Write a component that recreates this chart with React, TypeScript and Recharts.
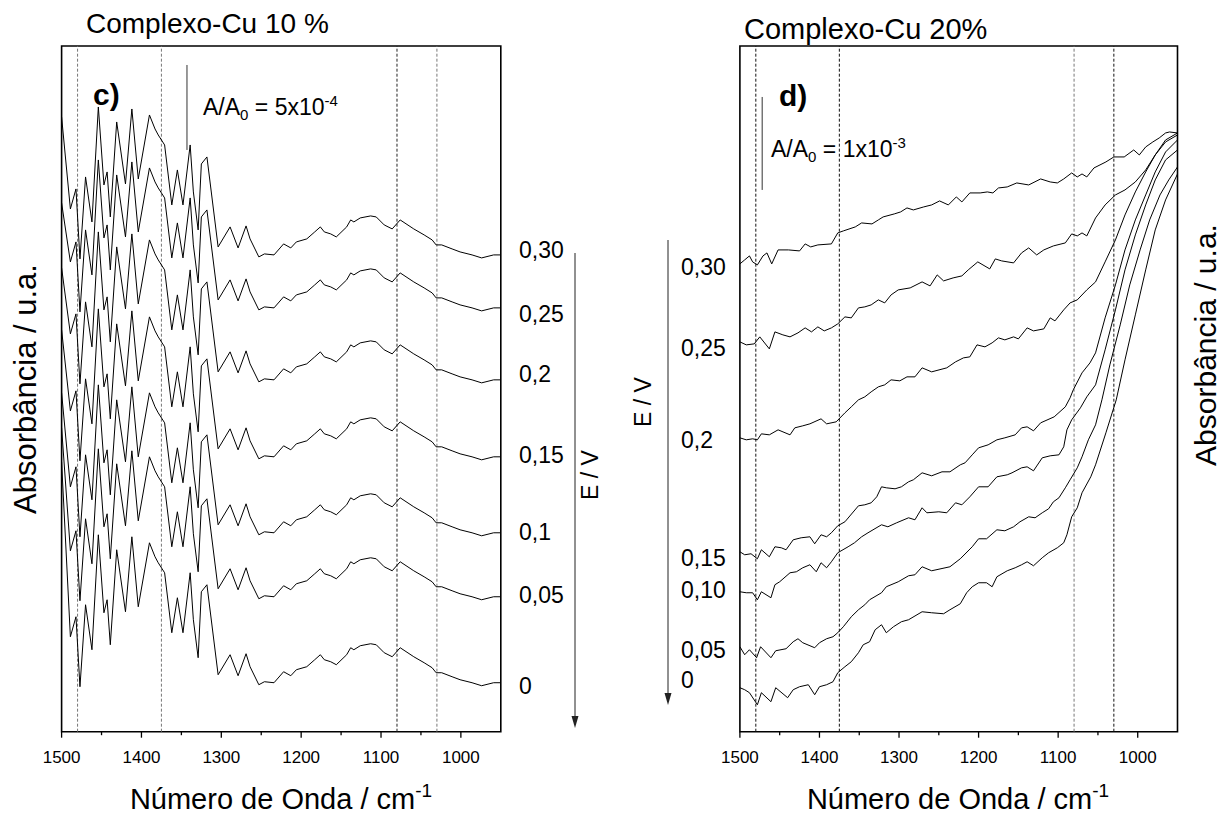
import React from "react";
import { LineChart, Line, XAxis, YAxis, ReferenceLine, ReferenceArea } from "recharts";

const FONT = "'Liberation Sans', Arial, Helvetica, sans-serif";

// shared wavenumber axis (cm-1), drawn high -> low
const X_DOMAIN = [950, 1500];
const X_TICKS = [1500, 1450, 1400, 1350, 1300, 1250, 1200, 1150, 1100, 1050, 1000];
const BAND_POSITIONS = [1480, 1375, 1080, 1030];
const Y_RANGE = [0, 686]; // absorbance, arbitrary units

// c) Complexo-Cu 10 % -- spectra are offset-stacked, like in the original plot
const C_LABELS = ["0,30", "0,25", "0,2", "0,15", "0,1", "0,05", "0"];
const C_OFFSET = [428, 375, 303, 226, 150, 86, 0];
const C_AT_1500 = [615, 529, 464, 402, 339, 304, 270];
const C_WAVENUMBER = [
  1489, 1482, 1477, 1470, 1462, 1454, 1447, 1443, 1439, 1431, 1420, 1412, 1404, 1390, 1383, 1379,
  1371, 1362, 1355, 1348, 1339, 1335, 1329, 1325, 1318, 1304, 1289, 1279, 1269, 1264, 1253, 1246,
  1234, 1222, 1213, 1206, 1193, 1183, 1176, 1171, 1163, 1156, 1143, 1138, 1134, 1126, 1113, 1106,
  1096, 1086, 1076, 1059, 1046, 1036, 1031, 1024, 1011, 1001, 986, 974, 959, 950,
];
const C_PROFILE = [
  95, 115, 45, 127, 82, 197, 119, 132, 87, 182, 120, 195, 125, 189, 175, 169,
  159, 99, 134, 99, 159, 112, 74, 140, 147, 57, 77, 56, 78, 65, 47, 50,
  49, 60, 56, 62, 65, 72, 77, 72, 70, 67, 77, 84, 82, 86, 88, 87,
  79, 75, 84, 75, 69, 64, 59, 59, 55, 52, 49, 46, 49, 49,
];
const C_BAND_COLORS = ["#777", "#777", "#222", "#777"];

// d) Complexo-Cu 20%  [wavenumber, absorbance]
const D_LABELS = ["0,30", "0,25", "0,2", "0,15", "0,10", "0,05", "0"];
const D_030 = [
  [1500, 468], [1494, 472], [1488, 476], [1484, 470], [1478, 467], [1471, 476], [1466, 479], [1460, 468],
  [1452, 482], [1439, 482], [1425, 481], [1418, 488], [1411, 485], [1402, 487], [1385, 488], [1377, 499],
  [1370, 501], [1355, 505], [1347, 509], [1334, 508], [1326, 512], [1320, 515], [1306, 518], [1298, 520],
  [1290, 524], [1282, 522], [1269, 525], [1259, 527], [1249, 531], [1238, 527], [1228, 535], [1221, 530],
  [1211, 539], [1198, 539], [1189, 540], [1182, 539], [1175, 544], [1164, 545], [1152, 549], [1137, 547],
  [1122, 553], [1110, 550], [1101, 549], [1093, 553], [1083, 559], [1076, 555], [1070, 558], [1064, 555],
  [1055, 564], [1040, 570], [1030, 575], [1017, 575], [1005, 582], [998, 577], [990, 585], [981, 590],
  [973, 594], [965, 599], [960, 600], [950, 599],
];
const D_025 = [
  [1500, 390], [1492, 387], [1482, 388], [1475, 395], [1463, 383], [1456, 400], [1446, 397], [1437, 395],
  [1427, 399], [1418, 404], [1410, 400], [1402, 405], [1394, 401], [1385, 404], [1377, 408], [1368, 415],
  [1360, 414], [1351, 424], [1343, 425], [1335, 427], [1326, 432], [1318, 429], [1310, 437], [1301, 442],
  [1286, 444], [1271, 450], [1261, 446], [1252, 457], [1244, 451], [1232, 454], [1221, 456], [1213, 462],
  [1201, 470], [1186, 463], [1179, 473], [1171, 471], [1156, 469], [1146, 479], [1137, 484], [1127, 477],
  [1118, 482], [1106, 486], [1091, 489], [1083, 498], [1076, 496], [1070, 499], [1064, 496], [1053, 514],
  [1041, 527], [1028, 537], [1016, 542], [1003, 550], [990, 562], [978, 577], [965, 592], [950, 599],
];
const D_020 = [
  [1500, 294], [1492, 292], [1484, 293], [1478, 292], [1473, 298], [1463, 297], [1452, 302], [1437, 297],
  [1431, 304], [1421, 306], [1412, 308], [1398, 313], [1391, 308], [1379, 310], [1368, 319], [1360, 325],
  [1351, 332], [1343, 335], [1335, 340], [1326, 345], [1318, 347], [1310, 352], [1299, 351], [1290, 355],
  [1280, 355], [1271, 364], [1259, 360], [1240, 364], [1229, 370], [1219, 374], [1211, 375], [1202, 387],
  [1192, 385], [1183, 389], [1175, 394], [1167, 392], [1156, 395], [1150, 393], [1139, 404], [1131, 401],
  [1118, 403], [1110, 414], [1104, 411], [1093, 422], [1085, 429], [1076, 432], [1064, 442], [1053, 450],
  [1041, 470], [1028, 492], [1016, 517], [1003, 540], [990, 560], [978, 577], [965, 590], [950, 597],
];
const D_015 = [
  [1500, 180], [1494, 177], [1486, 178], [1478, 173], [1473, 182], [1463, 175], [1456, 185], [1448, 184],
  [1442, 182], [1433, 192], [1423, 194], [1412, 195], [1406, 188], [1398, 197], [1391, 195], [1385, 199],
  [1377, 206], [1368, 210], [1351, 226], [1343, 227], [1335, 229], [1328, 235], [1322, 245], [1316, 244],
  [1305, 243], [1297, 245], [1288, 250], [1282, 252], [1271, 259], [1259, 256], [1246, 260], [1236, 260],
  [1223, 267], [1217, 269], [1208, 277], [1200, 284], [1188, 287], [1177, 292], [1167, 294], [1154, 297],
  [1146, 304], [1139, 305], [1131, 301], [1122, 309], [1105, 315], [1091, 325], [1085, 334], [1081, 342],
  [1070, 359], [1060, 369], [1053, 379], [1041, 414], [1028, 447], [1016, 482], [1003, 512], [990, 537],
  [978, 560], [965, 580], [950, 592],
];
const D_010 = [
  [1500, 140], [1492, 139], [1484, 139], [1478, 132], [1473, 140], [1461, 134], [1456, 147], [1450, 150],
  [1437, 159], [1429, 160], [1421, 164], [1412, 167], [1404, 160], [1398, 169], [1391, 164], [1385, 170],
  [1377, 179], [1364, 185], [1356, 189], [1347, 195], [1339, 199], [1322, 207], [1314, 205], [1303, 209],
  [1288, 214], [1280, 212], [1271, 224], [1265, 219], [1250, 220], [1240, 219], [1229, 229], [1221, 227],
  [1211, 235], [1200, 245], [1188, 245], [1177, 255], [1164, 257], [1158, 259], [1146, 264], [1139, 265],
  [1131, 261], [1120, 274], [1110, 276], [1099, 277], [1093, 285], [1089, 302], [1083, 312], [1072, 324],
  [1064, 335], [1053, 347], [1041, 382], [1028, 422], [1016, 462], [1003, 497], [990, 527], [978, 552],
  [965, 572], [950, 582],
];
const D_005 = [
  [1500, 85], [1494, 77], [1488, 82], [1479, 74], [1474, 85], [1461, 74], [1455, 81], [1442, 83],
  [1433, 90], [1427, 93], [1421, 89], [1406, 84], [1400, 89], [1391, 93], [1383, 95], [1377, 99],
  [1370, 105], [1360, 115], [1351, 122], [1343, 127], [1337, 132], [1322, 139], [1316, 145], [1301, 150],
  [1288, 156], [1280, 157], [1271, 165], [1259, 161], [1236, 165], [1223, 173], [1208, 185], [1200, 193],
  [1190, 193], [1177, 202], [1167, 201], [1156, 205], [1148, 210], [1137, 215], [1129, 214], [1120, 219],
  [1112, 223], [1106, 230], [1099, 234], [1091, 244], [1085, 252], [1076, 264], [1070, 275], [1062, 292],
  [1053, 307], [1045, 332], [1035, 367], [1022, 407], [1010, 447], [997, 482], [985, 512], [972, 537],
  [961, 552], [950, 565],
];
const D_000 = [
  [1500, 44], [1494, 42], [1488, 39], [1478, 27], [1473, 39], [1461, 30], [1455, 44], [1440, 34],
  [1433, 42], [1425, 45], [1414, 47], [1406, 37], [1400, 45], [1391, 47], [1383, 50], [1377, 59],
  [1368, 65], [1360, 70], [1351, 79], [1345, 87], [1337, 90], [1330, 102], [1322, 107], [1316, 99],
  [1307, 105], [1297, 110], [1288, 112], [1271, 120], [1259, 119], [1244, 118], [1236, 122], [1223, 128],
  [1215, 139], [1208, 145], [1200, 149], [1190, 149], [1183, 145], [1177, 155], [1164, 161], [1154, 164],
  [1146, 167], [1139, 170], [1131, 166], [1120, 174], [1112, 179], [1101, 184], [1093, 189], [1089, 197],
  [1083, 215], [1076, 224], [1070, 239], [1059, 255], [1053, 267], [1040, 299], [1027, 332], [1016, 372],
  [1003, 417], [990, 462], [978, 502], [965, 532], [950, 558],
];
const D_BAND_COLORS = ["#111", "#111", "#777", "#111"];

const cData = [
  { wn: 1500, ...Object.fromEntries(C_AT_1500.map((v, i) => [`s${i}`, v])) },
  ...C_WAVENUMBER.map((wn, j) => ({
    wn,
    ...Object.fromEntries(C_OFFSET.map((o, i) => [`s${i}`, C_PROFILE[j] + o])),
  })),
];

const dSeries = [D_030, D_025, D_020, D_015, D_010, D_005, D_000].map((s) =>
  s.map(([wn, a]) => ({ wn, a }))
);

function WnTick(props: any) {
  const { x, y, payload } = props;
  const major = payload.value % 100 === 0;
  return (
    <g>
      <line x1={x} x2={x} y1={y} y2={y + (major ? 6 : 3.5)} stroke="#000" strokeWidth={1.3} />
      {major && (
        <text x={x} y={y + 31} textAnchor="middle" fontSize={17} fontFamily={FONT} fill="#000">
          {payload.value}
        </text>
      )}
    </g>
  );
}

function Panel({ left, width, marginLeft, marginRight, data, bandColors, bar, children }: any) {
  return (
    <div style={{ position: "absolute", top: 0, left }}>
      <LineChart
        width={width}
        height={816}
        data={data}
        margin={{ top: 46, left: marginLeft, right: marginRight, bottom: 54.3 }}
      >
        <XAxis
          dataKey="wn"
          type="number"
          domain={X_DOMAIN}
          reversed
          ticks={X_TICKS}
          interval={0}
          tickSize={0}
          tickMargin={0}
          tickLine={false}
          axisLine={false}
          tick={<WnTick />}
          height={30}
          allowDataOverflow
        />
        <YAxis hide type="number" domain={Y_RANGE} allowDataOverflow />
        <ReferenceArea x1={950} x2={1500} y1={0} y2={686} fill="none" stroke="#000" strokeWidth={1.6} />
        {BAND_POSITIONS.map((wn, i) => (
          <ReferenceLine key={wn} x={wn} stroke={bandColors[i]} strokeWidth={1} strokeDasharray="3 2" />
        ))}
        <ReferenceLine segment={bar} stroke="#333" strokeWidth={1} />
        {children}
      </LineChart>
    </div>
  );
}

function Arrow({ x, y1, y2 }: any) {
  return (
    <g>
      <line x1={x} x2={x} y1={y1} y2={y2 - 10} stroke="#222" strokeWidth={1} />
      <polygon points={`${x - 3.5},${y2 - 12} ${x + 3.5},${y2 - 12} ${x},${y2}`} fill="#222" />
    </g>
  );
}

export default function App() {
  return (
    <div style={{ position: "absolute", left: 0, top: 0, width: 1224, height: 816, background: "#fff" }}>
      <Panel
        left={0}
        width={560}
        marginLeft={61.6}
        marginRight={59.2}
        data={cData}
        bandColors={C_BAND_COLORS}
        bar={[{ x: 1343, y: 582 }, { x: 1343, y: 667 }]}
      >
        {C_LABELS.map((lab, i) => (
          <Line
            key={lab}
            dataKey={`s${i}`}
            type="linear"
            stroke="#000"
            strokeWidth={1}
            dot={false}
            isAnimationActive={false}
          />
        ))}
      </Panel>
      <Panel
        left={620}
        width={600}
        marginLeft={119.9}
        marginRight={42.5}
        data={undefined}
        bandColors={D_BAND_COLORS}
        bar={[{ x: 1472, y: 542 }, { x: 1472, y: 635 }]}
      >
        {dSeries.map((pts, i) => (
          <Line
            key={D_LABELS[i]}
            data={pts}
            dataKey="a"
            type="linear"
            stroke="#000"
            strokeWidth={1}
            dot={false}
            isAnimationActive={false}
          />
        ))}
      </Panel>

      <svg
        width={1224}
        height={816}
        style={{ position: "absolute", left: 0, top: 0, pointerEvents: "none" }}
        fontFamily={FONT}
        fill="#000"
      >
        {/* panel c */}
        <text x={86} y={33} fontSize={28}>Complexo-Cu 10 %</text>
        <text x={93} y={105} fontSize={30} fontWeight="bold">c)</text>
        <text x={203} y={115} fontSize={23}>
          A/A<tspan dy={5} fontSize={15}>0</tspan>
          <tspan dy={-5}> = 5x10</tspan>
          <tspan dy={-9} fontSize={15}>-4</tspan>
        </text>
        <text transform="translate(36,389) rotate(-90)" textAnchor="middle" fontSize={31}>
          Absorbância / u.a.
        </text>
        <text x={281} y={809} textAnchor="middle" fontSize={29}>
          Número de Onda / cm<tspan dy={-12} fontSize={19}>-1</tspan>
        </text>
        {[258, 322, 382, 463, 540, 603, 694].map((y, i) => (
          <text key={i} x={519} y={y} fontSize={23}>{C_LABELS[i]}</text>
        ))}
        <Arrow x={575} y1={253} y2={728} />
        <text transform="translate(598,475) rotate(-90)" textAnchor="middle" fontSize={23}>E / V</text>

        {/* panel d */}
        <text x={744} y={39} fontSize={29}>Complexo-Cu 20%</text>
        <text x={779} y={106} fontSize={30} fontWeight="bold">d)</text>
        <text x={771} y={157} fontSize={23}>
          A/A<tspan dy={5} fontSize={15}>0</tspan>
          <tspan dy={-5}> = 1x10</tspan>
          <tspan dy={-9} fontSize={15}>-3</tspan>
        </text>
        <text transform="translate(1216,345) rotate(-90)" textAnchor="middle" fontSize={30}>
          Absorbância / u.a.
        </text>
        <text x={958} y={809} textAnchor="middle" fontSize={29}>
          Número de Onda / cm<tspan dy={-12} fontSize={19}>-1</tspan>
        </text>
        {[275, 356, 448, 566, 598, 658, 688].map((y, i) => (
          <text key={i} x={681} y={y} fontSize={23}>{D_LABELS[i]}</text>
        ))}
        <Arrow x={668} y1={240} y2={705} />
        <text transform="translate(651,402) rotate(-90)" textAnchor="middle" fontSize={23}>E / V</text>
      </svg>
    </div>
  );
}
